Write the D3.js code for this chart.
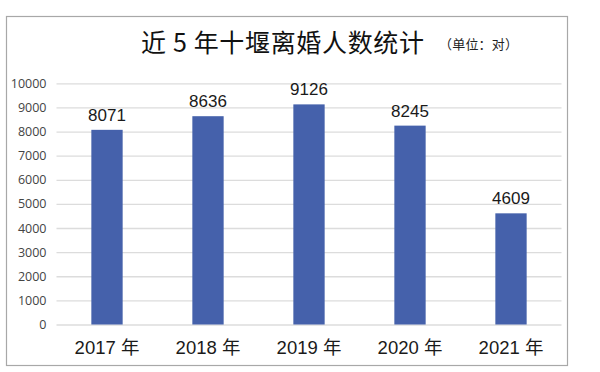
<!DOCTYPE html>
<html lang="zh">
<head>
    <meta charset="UTF-8">
    <title>近5年十堰离婚人数统计</title>
    <script src="https://d3js.org/d3.v7.min.js"></script>
    <style type="text/css">
        body { margin: 0; background: #fff; }
    </style>
</head>
    <body>
        <script type="text/javascript">

        //Width and height
        var w = 600;
        var h = 372;

        //Data
        var years = ["2017 年", "2018 年", "2019 年", "2020 年", "2021 年"];
        var counts = [8071, 8636, 9126, 8245, 4609];
        var yTicks = [0, 1000, 2000, 3000, 4000, 5000, 6000, 7000, 8000, 9000, 10000];

        var dataset = years.map(function(y, i) { return { Year: y, Count: counts[i] }; });

        //Plot area (window.top is taken, so own names)
        var plotLeft = 56.5, plotRight = 561.5, plotTop = 83.3, plotBottom = 324.5;

        var xScale = d3.scaleBand()
            .domain(years)
            .range([plotLeft, plotRight])
            .paddingInner(0.69)
            .paddingOuter(0.345);

        var yScale = d3.scaleLinear()
            .domain([0, 10000])
            .range([plotBottom, plotTop]);

        //Create SVG element
        var svg = d3.select("body")
            .append("svg")
            .attr("width", w)
            .attr("height", h);

        //Frame
        svg.append("rect")
            .attr("x", 6.5)
            .attr("y", 16.5)
            .attr("width", 561)
            .attr("height", 349)
            .attr("fill", "#fff")
            .attr("stroke", "#a8a8a8")
            .attr("stroke-width", 1.2);

        //Title
        svg.append("text")
            .attr("x", 141)
            .attr("y", 52)
            .attr("textLength", 283)
            .attr("lengthAdjust", "spacing")
            .attr("font-family", "'Noto Sans CJK SC', sans-serif")
            .attr("font-size", "25px")
            .attr("fill", "#111")
            .text("近 5 年十堰离婚人数统计");

        svg.append("text")
            .attr("x", 439)
            .attr("y", 49)
            .attr("textLength", 79)
            .attr("lengthAdjust", "spacing")
            .attr("font-family", "'Noto Sans CJK SC', serif")
            .attr("font-size", "13px")
            .attr("fill", "#222")
            .text("（单位：对）");

        //Y axis with gridlines
        var yAxis = d3.axisLeft(yScale)
            .tickValues(yTicks)
            .tickSize(-(plotRight - plotLeft))
            .tickPadding(10)
            .tickFormat(d3.format("d"));

        var gy = svg.append("g")
            .attr("transform", "translate(" + plotLeft + ",0)")
            .call(yAxis);

        gy.select(".domain").remove();
        gy.selectAll(".tick line")
            .attr("stroke", "#dcdcdc")
            .attr("stroke-width", 1.3);
        gy.selectAll(".tick text")
            .attr("font-family", "'Open Sans', sans-serif")
            .attr("font-size", "12.5px")
            .attr("fill", "#444");

        //X axis labels
        var xAxis = d3.axisBottom(xScale)
            .tickSize(0)
            .tickPadding(16);

        var gx = svg.append("g")
            .attr("transform", "translate(0," + plotBottom + ")")
            .call(xAxis);

        gx.select(".domain").remove();
        gx.selectAll(".tick text")
            .attr("font-family", "'Liberation Sans', 'Noto Sans CJK SC', sans-serif")
            .attr("font-size", "18.5px")
            .attr("fill", "#1a1a1a");

        //Bars
        svg.selectAll("rect.bar")
            .data(dataset)
            .enter()
            .append("rect")
            .attr("class", "bar")
            .attr("x", function(d) { return xScale(d.Year); })
            .attr("y", function(d) { return yScale(d.Count); })
            .attr("width", xScale.bandwidth())
            .attr("height", function(d) { return plotBottom - yScale(d.Count); })
            .attr("fill", "#4561ab");

        //Value labels
        svg.selectAll("text.value")
            .data(dataset)
            .enter()
            .append("text")
            .attr("class", "value")
            .attr("x", function(d) { return xScale(d.Year) + xScale.bandwidth() / 2; })
            .attr("y", function(d) { return yScale(d.Count) - 9; })
            .attr("text-anchor", "middle")
            .attr("font-family", "'Liberation Sans', Arial, sans-serif")
            .attr("font-size", "17px")
            .attr("fill", "#1a1a1a")
            .text(function(d) { return d.Count; });

        </script>
    </body>
</html>
